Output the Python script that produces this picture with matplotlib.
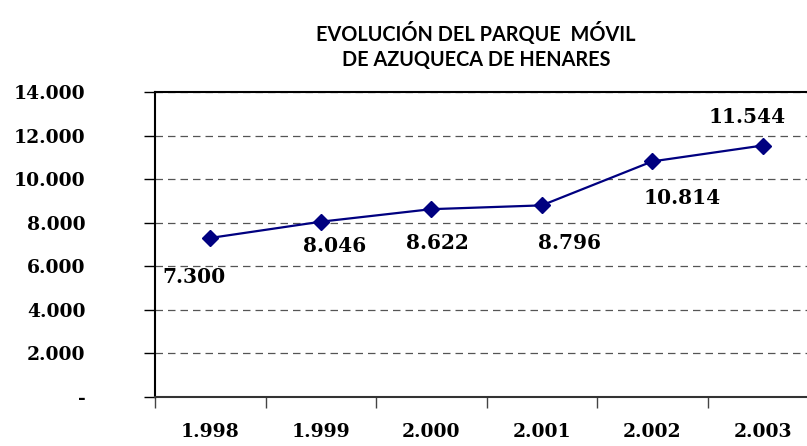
import matplotlib.pyplot as plt
import matplotlib.ticker as mticker

# Datos
years = ["1.998", "1.999", "2.000", "2.001", "2.002", "2.003"]
vehicles = [7300, 8046, 8622, 8796, 10814, 11544]
value_labels = ["7.300", "8.046", "8.622", "8.796", "10.814", "11.544"]
y_ticks = [0, 2000, 4000, 6000, 8000, 10000, 12000, 14000]
y_tick_labels = ["-", "2.000", "4.000", "6.000", "8.000", "10.000", "12.000", "14.000"]

# offset of each value label from its point, in pixels (x right, y up)
label_offsets = [(-16, -39), (14, -24), (6, -34), (28, -38), (30, -37), (-16, 29)]

fig = plt.figure(figsize=(8.07, 4.46), dpi=100)
# plot area runs a little past the right edge, like the original crop
ax = fig.add_axes([155 / 807, 49 / 446, 663 / 807, 305 / 446])

x = list(range(len(years)))
ax.plot(x, vehicles, color="#000080", linewidth=1.6, marker="D", markersize=8,
        markerfacecolor="#000080", markeredgecolor="#000080", zorder=3)

for i, (v, lab) in enumerate(zip(vehicles, value_labels)):
    dx, dy = label_offsets[i]
    ax.annotate(lab, (i, v), xytext=(dx * 0.72, dy * 0.72), textcoords="offset points",
                ha="center", va="center", fontsize=14.5, fontweight="bold",
                family="DejaVu Serif", color="black")

ax.set_xlim(-0.5, len(years) - 0.5)
ax.set_ylim(0, 14000)

ax.set_xticks(x)
ax.set_xticklabels(years)
ax.xaxis.set_minor_locator(mticker.FixedLocator([i - 0.5 for i in range(len(years) + 1)]))
ax.tick_params(axis="x", which="major", length=0, pad=19)
ax.tick_params(axis="x", which="minor", length=8, width=1, color="#444444", direction="out")

ax.set_yticks(y_ticks)
ax.set_yticklabels(y_tick_labels)
ax.tick_params(axis="y", length=8, width=1, direction="out", pad=42)

for lab in ax.get_xticklabels() + ax.get_yticklabels():
    lab.set_fontfamily("DejaVu Serif")
    lab.set_fontweight("bold")
    lab.set_fontsize(13.5)

ax.yaxis.grid(True, linestyle=(0, (6, 4)), color="#555555", linewidth=0.9)
ax.set_axisbelow(True)

ax.spines["left"].set_linewidth(1.5)
ax.spines["top"].set_linewidth(1.5)
ax.spines["bottom"].set_linewidth(1.5)
ax.spines["bottom"].set_color("#333333")
ax.spines["right"].set_visible(False)

fig.text(476 / 807, 1 - 33 / 446, "EVOLUCIÓN DEL PARQUE  MÓVIL", ha="center", va="center",
         fontsize=14.3, fontweight="bold", family="Lato")
fig.text(476 / 807, 1 - 60 / 446, "DE AZUQUECA DE HENARES", ha="center", va="center",
         fontsize=14.3, fontweight="bold", family="Lato")

fig.savefig("out.png", dpi=100)
